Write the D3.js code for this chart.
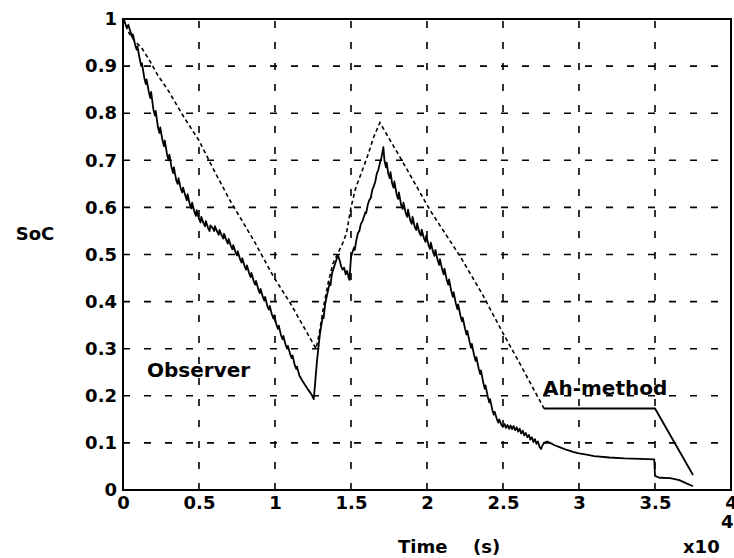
<!DOCTYPE html>
<html>
<head>
<meta charset="utf-8">
<script src="https://cdn.jsdelivr.net/npm/d3@7"></script>
<style>
  body { margin: 0; background: #fff; }
  svg text { font-family: "DejaVu Sans", sans-serif; font-weight: bold; fill: #000; }
</style>
</head>
<body>
<div id="chart"></div>
<script>
// time in units of 10^4 s
const xTicks = [0, 0.5, 1, 1.5, 2, 2.5, 3, 3.5, 4];
const yTicks = [0, 0.1, 0.2, 0.3, 0.4, 0.5, 0.6, 0.7, 0.8, 0.9, 1];

// Observer estimate (solid, noisy)
const observer = [
  [0, 1], [0.01, 0.995], [0.02, 0.985], [0.03, 0.983], [0.035, 0.988], [0.05, 0.972], [0.06, 0.962],
  [0.065, 0.967], [0.08, 0.945], [0.09, 0.935], [0.095, 0.942], [0.11, 0.915], [0.12, 0.9],
  [0.125, 0.906], [0.14, 0.875], [0.15, 0.862], [0.155, 0.872], [0.17, 0.845], [0.18, 0.832],
  [0.185, 0.845], [0.2, 0.808], [0.21, 0.795], [0.215, 0.805], [0.23, 0.77], [0.24, 0.758],
  [0.245, 0.77], [0.26, 0.742], [0.27, 0.73], [0.275, 0.742], [0.29, 0.712], [0.3, 0.7],
  [0.305, 0.712], [0.32, 0.684], [0.33, 0.673], [0.335, 0.685], [0.35, 0.658], [0.36, 0.65],
  [0.365, 0.662], [0.38, 0.64], [0.39, 0.632], [0.395, 0.642], [0.41, 0.625], [0.42, 0.615],
  [0.425, 0.628], [0.44, 0.606], [0.45, 0.598], [0.455, 0.61], [0.47, 0.59], [0.48, 0.582],
  [0.485, 0.594], [0.5, 0.576], [0.51, 0.568], [0.515, 0.58], [0.53, 0.566], [0.54, 0.56],
  [0.545, 0.571], [0.56, 0.556], [0.57, 0.55], [0.575, 0.562], [0.59, 0.556], [0.6, 0.55],
  [0.605, 0.56], [0.62, 0.548], [0.63, 0.542], [0.635, 0.552], [0.65, 0.54], [0.66, 0.534],
  [0.665, 0.544], [0.68, 0.53], [0.69, 0.523], [0.695, 0.533], [0.71, 0.518], [0.72, 0.511],
  [0.725, 0.52], [0.74, 0.505], [0.75, 0.498], [0.755, 0.507], [0.77, 0.49], [0.78, 0.483],
  [0.785, 0.492], [0.8, 0.475], [0.81, 0.468], [0.815, 0.477], [0.83, 0.46], [0.84, 0.452],
  [0.845, 0.461], [0.86, 0.443], [0.87, 0.436], [0.875, 0.444], [0.89, 0.426], [0.9, 0.418],
  [0.905, 0.427], [0.92, 0.41], [0.93, 0.402], [0.935, 0.41], [0.95, 0.39], [0.96, 0.383],
  [0.965, 0.391], [0.98, 0.372], [0.99, 0.364], [0.995, 0.371], [1.01, 0.35], [1.02, 0.342],
  [1.025, 0.349], [1.04, 0.328], [1.05, 0.32], [1.055, 0.327], [1.07, 0.308], [1.08, 0.3],
  [1.085, 0.306], [1.1, 0.288], [1.11, 0.28], [1.115, 0.286], [1.13, 0.265], [1.14, 0.257],
  [1.145, 0.262], [1.16, 0.243], [1.18, 0.232], [1.2, 0.222], [1.22, 0.212], [1.24, 0.203],
  [1.255, 0.193], [1.265, 0.23], [1.275, 0.27], [1.285, 0.3], [1.295, 0.33], [1.305, 0.35],
  [1.315, 0.37], [1.32, 0.365], [1.33, 0.395], [1.34, 0.41], [1.35, 0.425], [1.36, 0.44],
  [1.365, 0.435], [1.375, 0.46], [1.385, 0.47], [1.395, 0.48], [1.405, 0.49], [1.415, 0.497],
  [1.425, 0.488], [1.435, 0.475], [1.445, 0.468], [1.455, 0.472], [1.465, 0.458], [1.475, 0.465],
  [1.485, 0.45], [1.49, 0.446], [1.5, 0.495], [1.51, 0.505], [1.52, 0.515], [1.525, 0.51],
  [1.535, 0.53], [1.545, 0.545], [1.555, 0.55], [1.565, 0.565], [1.575, 0.57], [1.585, 0.58],
  [1.595, 0.59], [1.6, 0.588], [1.61, 0.605], [1.62, 0.615], [1.63, 0.62], [1.64, 0.637],
  [1.65, 0.645], [1.66, 0.655], [1.67, 0.672], [1.68, 0.68], [1.69, 0.694], [1.7, 0.705],
  [1.713, 0.728], [1.72, 0.7], [1.73, 0.685], [1.735, 0.695], [1.745, 0.672], [1.755, 0.662],
  [1.76, 0.675], [1.77, 0.652], [1.78, 0.642], [1.785, 0.655], [1.8, 0.628], [1.81, 0.618],
  [1.815, 0.632], [1.83, 0.605], [1.84, 0.597], [1.845, 0.61], [1.86, 0.588], [1.87, 0.58],
  [1.875, 0.595], [1.89, 0.572], [1.9, 0.565], [1.905, 0.58], [1.92, 0.558], [1.93, 0.552],
  [1.935, 0.566], [1.95, 0.546], [1.96, 0.54], [1.965, 0.553], [1.98, 0.534], [1.99, 0.527],
  [1.995, 0.54], [2.01, 0.52], [2.02, 0.512], [2.025, 0.525], [2.04, 0.505], [2.05, 0.497],
  [2.055, 0.51], [2.07, 0.488], [2.08, 0.478], [2.085, 0.49], [2.1, 0.468], [2.11, 0.458],
  [2.115, 0.47], [2.13, 0.446], [2.14, 0.436], [2.145, 0.447], [2.16, 0.422], [2.17, 0.41],
  [2.175, 0.42], [2.19, 0.396], [2.2, 0.384], [2.205, 0.394], [2.22, 0.37], [2.23, 0.358],
  [2.235, 0.366], [2.25, 0.343], [2.26, 0.33], [2.265, 0.338], [2.28, 0.315], [2.29, 0.302],
  [2.295, 0.31], [2.31, 0.286], [2.32, 0.274], [2.325, 0.282], [2.34, 0.258], [2.35, 0.246],
  [2.355, 0.254], [2.37, 0.228], [2.38, 0.215], [2.385, 0.222], [2.4, 0.198], [2.41, 0.186],
  [2.415, 0.193], [2.43, 0.17], [2.44, 0.16], [2.445, 0.166], [2.46, 0.15], [2.47, 0.143],
  [2.475, 0.15], [2.49, 0.138], [2.5, 0.134], [2.51, 0.14], [2.52, 0.132], [2.53, 0.138],
  [2.54, 0.13], [2.55, 0.137], [2.56, 0.129], [2.57, 0.136], [2.58, 0.127], [2.59, 0.133],
  [2.6, 0.124], [2.61, 0.13], [2.62, 0.12], [2.63, 0.126], [2.64, 0.116], [2.65, 0.121],
  [2.66, 0.112], [2.67, 0.117], [2.68, 0.107], [2.69, 0.112], [2.7, 0.102], [2.71, 0.108],
  [2.72, 0.098], [2.73, 0.103], [2.74, 0.092], [2.75, 0.087], [2.76, 0.095], [2.77, 0.1],
  [2.79, 0.103], [2.81, 0.1], [2.84, 0.095], [2.88, 0.09], [2.92, 0.085], [2.96, 0.081],
  [3.0, 0.078], [3.05, 0.075], [3.1, 0.072], [3.2, 0.069], [3.3, 0.067], [3.4, 0.066],
  [3.495, 0.065], [3.5, 0.03], [3.53, 0.026], [3.6, 0.025], [3.66, 0.021], [3.7, 0.015], [3.75, 0.008]
];

// Ah-method (dashed until the flat part, then solid)
const ahMethod = [
  [0, 1], [0.04, 0.97], [0.08, 0.952], [0.12, 0.94], [0.15, 0.925], [0.18, 0.909],
  [0.23, 0.88], [0.3, 0.847], [0.4, 0.792], [0.5, 0.742], [0.6, 0.678], [0.7, 0.617],
  [0.86, 0.53], [0.99, 0.453], [1.1, 0.397], [1.2, 0.34], [1.27, 0.3], [1.29, 0.33],
  [1.32, 0.39], [1.35, 0.44], [1.38, 0.48], [1.41, 0.5], [1.44, 0.52], [1.47, 0.545],
  [1.5, 0.6], [1.53, 0.64], [1.57, 0.675], [1.61, 0.71], [1.65, 0.75], [1.69, 0.78],
  [1.82, 0.708], [2.02, 0.594], [2.22, 0.495], [2.36, 0.418], [2.5, 0.333], [2.61, 0.269],
  [2.77, 0.173], [3.5, 0.173], [3.75, 0.032]
];
const ahSolidFrom = 2.77;

const width = 734, height = 558;
const margin = { top: 19, right: 3, bottom: 68, left: 123 };

const svg = d3.select("#chart").append("svg")
  .attr("width", width)
  .attr("height", height)
  .style("background", "#fff");

const x = d3.scaleLinear().domain([0, 4]).range([margin.left, width - margin.right]);
const y = d3.scaleLinear().domain([0, 1]).range([height - margin.bottom, margin.top]);

// grid
svg.append("g")
  .selectAll("line.vgrid")
  .data(xTicks.slice(1, -1))
  .join("line")
  .attr("x1", d => x(d)).attr("x2", d => x(d))
  .attr("y1", y(0)).attr("y2", y(1))
  .attr("stroke", "#000").attr("stroke-width", 1.6)
  .attr("stroke-dasharray", "7,14");

svg.append("g")
  .selectAll("line.hgrid")
  .data(yTicks.slice(1, -1))
  .join("line")
  .attr("x1", x(0)).attr("x2", x(4))
  .attr("y1", d => y(d)).attr("y2", d => y(d))
  .attr("stroke", "#000").attr("stroke-width", 1.6)
  .attr("stroke-dasharray", "7,14");

// axes
const xAxis = svg.append("g")
  .attr("transform", `translate(0,${y(0)})`)
  .call(d3.axisBottom(x).tickValues(xTicks).tickSize(0).tickPadding(6).tickFormat(d => String(d)));
const yAxis = svg.append("g")
  .attr("transform", `translate(${x(0)},0)`)
  .call(d3.axisLeft(y).tickValues(yTicks).tickSize(0).tickPadding(6).tickFormat(d => String(d)));

[xAxis, yAxis].forEach(a => {
  a.select(".domain").remove();
  a.selectAll("text")
    .attr("fill", "#000")
    .style("font-family", "'DejaVu Sans', sans-serif")
    .style("font-weight", "bold")
    .style("font-size", "18px");
});

// frame
svg.append("rect")
  .attr("x", x(0)).attr("y", y(1))
  .attr("width", x(4) - x(0)).attr("height", y(0) - y(1))
  .attr("fill", "none").attr("stroke", "#000").attr("stroke-width", 2);

const line = d3.line().x(d => x(d[0])).y(d => y(d[1]));

svg.append("path")
  .datum(ahMethod.filter(d => d[0] <= ahSolidFrom))
  .attr("d", line)
  .attr("fill", "none").attr("stroke", "#000").attr("stroke-width", 1.6)
  .attr("stroke-dasharray", "4,3");

svg.append("path")
  .datum(ahMethod.filter(d => d[0] >= ahSolidFrom))
  .attr("d", line)
  .attr("fill", "none").attr("stroke", "#000").attr("stroke-width", 1.8);

svg.append("path")
  .datum(observer)
  .attr("d", line)
  .attr("fill", "none").attr("stroke", "#000").attr("stroke-width", 1.8)
  .attr("stroke-linejoin", "round");

// annotations
svg.append("text").attr("x", 147).attr("y", 377).style("font-size", "20px").text("Observer");
svg.append("text").attr("x", 543).attr("y", 395).style("font-size", "20px").text("Ah-method");

// axis titles
svg.append("text").attr("x", 35).attr("y", 240).attr("text-anchor", "middle")
  .style("font-size", "18px").text("SoC");
svg.append("text").attr("x", 398).attr("y", 553).style("font-size", "18px").text("Time");
svg.append("text").attr("x", 473).attr("y", 553).style("font-size", "18px").text("(s)");
svg.append("text").attr("x", 683).attr("y", 553).style("font-size", "18px").text("x10");
svg.append("text").attr("x", 721).attr("y", 528).style("font-size", "18px").text("4");
</script>
</body>
</html>
